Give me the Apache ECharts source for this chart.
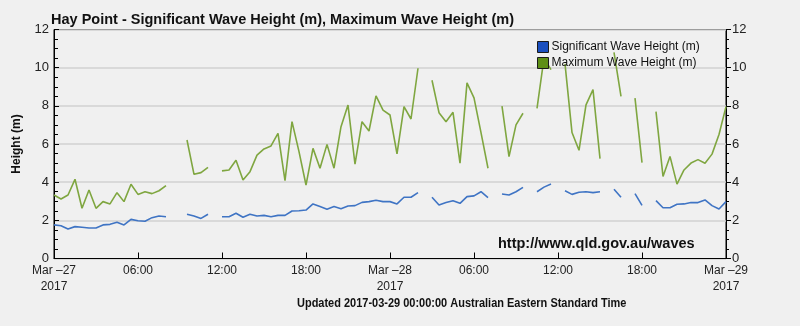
<!DOCTYPE html>
<html>
<head>
<meta charset="utf-8">
<script src="https://cdn.jsdelivr.net/npm/echarts@6/dist/echarts.min.js"></script>
<style>
html,body{margin:0;padding:0;background:#f0f0f0;}
#c{width:800px;height:326px;}
</style>
</head>
<body>
<div id="c"></div>
<script>
// Half-hourly samples from 2017-03-27 00:00 to 2017-03-29 00:00 (hours from start); null = no data
const hoursStep = 0.5;
const tickLabels = ['Mar \u201327\n2017','06:00','12:00','18:00','Mar \u201328\n2017','06:00','12:00','18:00','Mar \u201329\n2017'];
const yTicks = [0,2,4,6,8,10,12];

const sigWave = [
  1.76,1.72,1.55,1.67,1.64,1.60,1.60,1.76,1.79,1.90,1.76,2.05,1.98,1.95,2.14,2.23,2.19, // 0.0 - 8.0
  null,null,
  2.32,2.23,2.10,2.32, // 9.5 - 11.0
  null,
  2.19,2.19,2.37,2.16,2.32,2.23,2.26,2.19,2.26,2.26,2.49,2.50, // 12.0 - 17.5
  2.54,2.86,2.72,2.58,2.72,2.61,2.75,2.77,2.94,2.98,3.05,2.98,2.98,2.86,3.21,3.21,3.45, // 18.0 - 26.0
  null,
  3.21,2.80,2.93,3.03,2.89,3.24,3.28,3.50,3.19, // 27.0 - 31.0
  null,
  3.38,3.33,3.50,3.73, // 32.0 - 33.5
  null,
  3.50,3.74,3.90, // 34.5 - 35.5
  null,
  3.55,3.36,3.47,3.50,3.45,3.50, // 36.5 - 39.0
  null,
  3.63,3.21, // 40.0 - 40.5
  null,
  3.40,2.78, // 41.5 - 42.0
  null,
  3.03,2.66,2.66,2.84,2.86,2.93,2.93,3.07,2.77,2.59,2.98 // 43.0 - 48.0
];

const maxWave = [
  3.33,3.12,3.33,4.15,2.63,3.59,2.63,2.98,2.86,3.45,2.98,3.89,3.36,3.50,3.40,3.55,3.82,
  null,null,
  6.21,4.41,4.50,4.78,
  null,
  4.59,4.64,5.15,4.11,4.55,5.42,5.74,5.90,6.56,4.08,7.17,5.60,
  3.85,5.77,4.73,5.98,4.73,6.91,8.04,4.94,7.17,6.68,8.52,7.78,7.52,5.48,7.96,7.31,9.97,
  null,
  9.34,7.64,7.17,7.66,5.00,9.20,8.42,6.60,4.73,
  null,
  7.99,5.34,7.00,7.61,
  null,
  7.87,10.50,9.90,
  null,
  10.20,6.60,5.67,8.05,8.85,5.23,
  null,
  10.80,8.50,
  null,
  8.40,5.02,
  null,
  7.70,4.30,5.35,3.90,4.64,5.00,5.18,4.99,5.47,6.50,7.96
];

const seriesNames = ['Significant Wave Height (m)','Maximum Wave Height (m)'];
const lineColors = ['#3f74c4','#7fa640'];
const legendColors = ['#1a4fbf','#5e8f16'];

function toPairs(arr){
  return arr.map((v,i)=>[i*hoursStep, v===null ? '-' : v]);
}

const chart = echarts.init(document.getElementById('c'), null, {renderer:'canvas'});
const font = 'Liberation Sans, Arial, Helvetica, sans-serif';

const yBase = {
  type:'value', min:0, max:12, interval:2,
  splitLine:{show:false},
  axisLine:{show:true, lineStyle:{color:'#000', width:1}},
  axisLabel:{color:'#222', fontSize:13, fontFamily:font, formatter: v => yTicks.includes(v) ? String(v) : ''},
  minorTick:{show:true, splitNumber:4, length:4, lineStyle:{color:'#000'}},
};

chart.setOption({
  backgroundColor:'#f0f0f0',
  animation:false,
  textStyle:{fontFamily:font},
  title:{
    text:'Hay Point - Significant Wave Height (m), Maximum Wave Height (m)',
    left:46, top:7,
    textStyle:{fontSize:14.5, fontWeight:'bold', color:'#111', fontFamily:font}
  },
  legend:{
    orient:'vertical', left:532, top:36, itemGap:4,
    itemWidth:11, itemHeight:11, icon:'rect',
    textStyle:{fontSize:12, color:'#111', fontFamily:font, padding:[0,0,0,-2]},
    data:[
      {name:seriesNames[0], itemStyle:{color:legendColors[0], borderColor:'#1a1a1a', borderWidth:1}},
      {name:seriesNames[1], itemStyle:{color:legendColors[1], borderColor:'#1a1a1a', borderWidth:1}}
    ]
  },
  grid:{left:54, right:74, top:29.5, bottom:67.5, show:true, borderColor:'#000', borderWidth:1, backgroundColor:'transparent'},
  xAxis:{
    type:'value', min:0, max:48, interval:6,
    axisLine:{show:true, onZero:false, lineStyle:{color:'#000'}},
    axisTick:{show:true, inside:true, length:6, lineStyle:{color:'#000'}},
    splitLine:{show:false},
    axisLabel:{color:'#222', fontSize:12, fontFamily:font, lineHeight:16, margin:4,
      formatter: v => tickLabels[Math.round(v/6)]}
  },
  yAxis:[
    Object.assign({}, yBase, {
      position:'left',
      name:'Height (m)', nameLocation:'middle', nameGap:31, nameRotate:90,
      nameTextStyle:{fontSize:12, fontWeight:'bold', color:'#111', fontFamily:font},
      axisTick:{show:true, inside:true, length:5, lineStyle:{color:'#000'}},
      minorTick:{show:true, splitNumber:4, length:4, lineStyle:{color:'#000'}},
      axisLabel:Object.assign({}, yBase.axisLabel, {margin:5}),
      splitLine:{show:true, lineStyle:{color:'#d2d2d2', width:1.5}}
    }),
    Object.assign({}, yBase, {
      position:'right',
      axisTick:{show:true, inside:false, length:5, lineStyle:{color:'#000'}},
      minorTick:{show:true, splitNumber:4, length:3, lineStyle:{color:'#000'}},
      axisLabel:Object.assign({}, yBase.axisLabel, {margin:6})
    })
  ],
  graphic:[
    {type:'text', left:498, top:236, z:10,
      style:{text:'http://www.qld.gov.au/waves', font:'bold 14.5px '+font, fill:'#111'}},
    {type:'text', x:297, y:297, scaleX:0.845, originX:0, originY:0,
      style:{text:'Updated 2017-03-29 00:00:00 Australian Eastern Standard Time', font:'bold 13px '+font, fill:'#111'}}
  ],
  series:[
    {name:seriesNames[0], type:'line', data:toPairs(sigWave), showSymbol:false, symbol:'none',
      connectNulls:false, lineStyle:{color:lineColors[0], width:1.6}, itemStyle:{color:legendColors[0]}, z:3},
    {name:seriesNames[1], type:'line', data:toPairs(maxWave), showSymbol:false, symbol:'none',
      connectNulls:false, lineStyle:{color:lineColors[1], width:1.6}, itemStyle:{color:legendColors[1]}, z:2}
  ]
});
</script>
</body>
</html>
